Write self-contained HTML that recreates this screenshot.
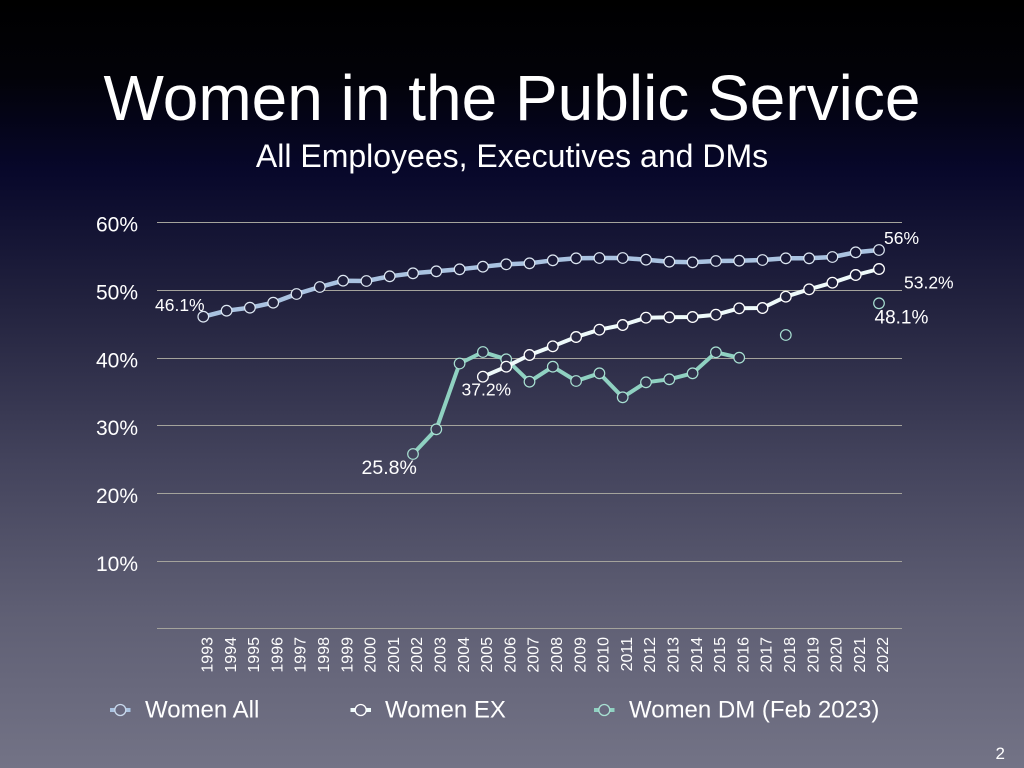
<!DOCTYPE html>
<html><head><meta charset="utf-8">
<style>
html,body{margin:0;padding:0;width:1024px;height:768px;overflow:hidden;background:#000;}
svg{display:block;}
text{font-family:"Liberation Sans",Arial,sans-serif;fill:#ffffff;}
</style></head>
<body>
<svg width="1024" height="768" viewBox="0 0 1024 768" xmlns="http://www.w3.org/2000/svg">
<defs>
<linearGradient id="bg" x1="0" y1="0" x2="0" y2="768" gradientUnits="userSpaceOnUse">
<stop offset="0" stop-color="#000000"/>
<stop offset="0.1" stop-color="#020208"/>
<stop offset="0.22" stop-color="#07072a"/>
<stop offset="0.4" stop-color="#23233f"/>
<stop offset="0.6" stop-color="#43435c"/>
<stop offset="0.8" stop-color="#5f5f74"/>
<stop offset="1" stop-color="#737386"/>
</linearGradient>
</defs>
<rect x="0" y="0" width="1024" height="768" fill="url(#bg)"/>

<text x="512" y="120" font-size="64" text-anchor="middle">Women in the Public Service</text>
<text x="512" y="167" font-size="32" text-anchor="middle">All Employees, Executives and DMs</text>

<!-- gridlines -->
<g stroke="#a4a39c" stroke-width="1">
<line x1="157" y1="222.5" x2="902" y2="222.5"/>
<line x1="157" y1="290.5" x2="902" y2="290.5"/>
<line x1="157" y1="358.5" x2="902" y2="358.5"/>
<line x1="157" y1="425.5" x2="902" y2="425.5"/>
<line x1="157" y1="493.5" x2="902" y2="493.5"/>
<line x1="157" y1="561.5" x2="902" y2="561.5"/>
<line x1="157" y1="628.5" x2="902" y2="628.5"/>
</g>

<g font-size="21" text-anchor="end">
<text x="138" y="231.7">60%</text>
<text x="138" y="299.5">50%</text>
<text x="138" y="367.7">40%</text>
<text x="138" y="435">30%</text>
<text x="138" y="503">20%</text>
<text x="138" y="571">10%</text>
</g>

<!-- x axis labels -->
<g font-size="16" text-anchor="end">
<text transform="translate(212.5,637) rotate(-90)">1993</text>
<text transform="translate(235.8,637) rotate(-90)">1994</text>
<text transform="translate(259.1,637) rotate(-90)">1995</text>
<text transform="translate(282.4,637) rotate(-90)">1996</text>
<text transform="translate(305.7,637) rotate(-90)">1997</text>
<text transform="translate(329,637) rotate(-90)">1998</text>
<text transform="translate(352.3,637) rotate(-90)">1999</text>
<text transform="translate(375.6,637) rotate(-90)">2000</text>
<text transform="translate(398.9,637) rotate(-90)">2001</text>
<text transform="translate(422.2,637) rotate(-90)">2002</text>
<text transform="translate(445.5,637) rotate(-90)">2003</text>
<text transform="translate(468.8,637) rotate(-90)">2004</text>
<text transform="translate(492.1,637) rotate(-90)">2005</text>
<text transform="translate(515.4,637) rotate(-90)">2006</text>
<text transform="translate(538.7,637) rotate(-90)">2007</text>
<text transform="translate(562,637) rotate(-90)">2008</text>
<text transform="translate(585.3,637) rotate(-90)">2009</text>
<text transform="translate(608.6,637) rotate(-90)">2010</text>
<text transform="translate(631.9,637) rotate(-90)">2011</text>
<text transform="translate(655.2,637) rotate(-90)">2012</text>
<text transform="translate(678.5,637) rotate(-90)">2013</text>
<text transform="translate(701.8,637) rotate(-90)">2014</text>
<text transform="translate(725.1,637) rotate(-90)">2015</text>
<text transform="translate(748.4,637) rotate(-90)">2016</text>
<text transform="translate(771.7,637) rotate(-90)">2017</text>
<text transform="translate(795,637) rotate(-90)">2018</text>
<text transform="translate(818.3,637) rotate(-90)">2019</text>
<text transform="translate(841.6,637) rotate(-90)">2020</text>
<text transform="translate(864.9,637) rotate(-90)">2021</text>
<text transform="translate(888.2,637) rotate(-90)">2022</text>
</g>

<!-- Women All -->
<polyline fill="none" stroke="#a9c2e0" stroke-width="4.5" stroke-linejoin="round" points="203.3,316.7 226.6,310.7 249.9,307.7 273.2,302.7 296.5,294 319.8,287 343.1,280.7 366.4,281 389.7,276.3 413,273.3 436.3,271.3 459.6,269.3 482.9,266.7 506.2,264.3 529.5,263.3 552.8,260.3 576.1,258.3 599.4,258 622.7,258 646,259.7 669.3,261.7 692.6,262.3 715.9,261 739.2,260.7 762.5,260 785.8,258.3 809.1,258.3 832.4,257 855.7,252.3 879,250"/>
<g fill="url(#bg)" stroke="#dde7f2" stroke-width="1.2">
<circle cx="203.3" cy="316.7" r="5.3"/><circle cx="226.6" cy="310.7" r="5.3"/><circle cx="249.9" cy="307.7" r="5.3"/><circle cx="273.2" cy="302.7" r="5.3"/><circle cx="296.5" cy="294" r="5.3"/><circle cx="319.8" cy="287" r="5.3"/><circle cx="343.1" cy="280.7" r="5.3"/><circle cx="366.4" cy="281" r="5.3"/><circle cx="389.7" cy="276.3" r="5.3"/><circle cx="413" cy="273.3" r="5.3"/><circle cx="436.3" cy="271.3" r="5.3"/><circle cx="459.6" cy="269.3" r="5.3"/><circle cx="482.9" cy="266.7" r="5.3"/><circle cx="506.2" cy="264.3" r="5.3"/><circle cx="529.5" cy="263.3" r="5.3"/><circle cx="552.8" cy="260.3" r="5.3"/><circle cx="576.1" cy="258.3" r="5.3"/><circle cx="599.4" cy="258" r="5.3"/><circle cx="622.7" cy="258" r="5.3"/><circle cx="646" cy="259.7" r="5.3"/><circle cx="669.3" cy="261.7" r="5.3"/><circle cx="692.6" cy="262.3" r="5.3"/><circle cx="715.9" cy="261" r="5.3"/><circle cx="739.2" cy="260.7" r="5.3"/><circle cx="762.5" cy="260" r="5.3"/><circle cx="785.8" cy="258.3" r="5.3"/><circle cx="809.1" cy="258.3" r="5.3"/><circle cx="832.4" cy="257" r="5.3"/><circle cx="855.7" cy="252.3" r="5.3"/><circle cx="879" cy="250" r="5.3"/>
</g>

<!-- Women DM -->
<polyline fill="none" stroke="#8fd1c1" stroke-width="4" stroke-linejoin="round" points="413,454 436.3,429.3 459.6,363.5 482.9,352 506.2,359.3 529.5,381.7 552.8,366.7 576.1,381 599.4,373.3 622.7,397.3 646,382.3 669.3,379.3 692.6,373.3 715.9,352.3 739.2,357.7"/>
<g fill="url(#bg)" stroke="#a8e0d2" stroke-width="1.2">
<circle cx="413" cy="454" r="5.3"/><circle cx="436.3" cy="429.3" r="5.3"/><circle cx="459.6" cy="363.5" r="5.3"/><circle cx="482.9" cy="352" r="5.3"/><circle cx="506.2" cy="359.3" r="5.3"/><circle cx="529.5" cy="381.7" r="5.3"/><circle cx="552.8" cy="366.7" r="5.3"/><circle cx="576.1" cy="381" r="5.3"/><circle cx="599.4" cy="373.3" r="5.3"/><circle cx="622.7" cy="397.3" r="5.3"/><circle cx="646" cy="382.3" r="5.3"/><circle cx="669.3" cy="379.3" r="5.3"/><circle cx="692.6" cy="373.3" r="5.3"/><circle cx="715.9" cy="352.3" r="5.3"/><circle cx="739.2" cy="357.7" r="5.3"/>
<circle cx="785.8" cy="335" r="5.3"/><circle cx="879" cy="303.3" r="5.3"/>
</g>

<!-- Women EX -->
<polyline fill="none" stroke="#eefafa" stroke-width="4" stroke-linejoin="round" points="482.9,376.7 506.2,366.7 529.5,355 552.8,346.3 576.1,337 599.4,329.7 622.7,325 646,317.7 669.3,317.3 692.6,317 715.9,314.7 739.2,308.3 762.5,308 785.8,296.7 809.1,289.3 832.4,282.7 855.7,275 879,269"/>
<g fill="url(#bg)" stroke="#ffffff" stroke-width="1.3">
<circle cx="482.9" cy="376.7" r="5.3"/><circle cx="506.2" cy="366.7" r="5.3"/><circle cx="529.5" cy="355" r="5.3"/><circle cx="552.8" cy="346.3" r="5.3"/><circle cx="576.1" cy="337" r="5.3"/><circle cx="599.4" cy="329.7" r="5.3"/><circle cx="622.7" cy="325" r="5.3"/><circle cx="646" cy="317.7" r="5.3"/><circle cx="669.3" cy="317.3" r="5.3"/><circle cx="692.6" cy="317" r="5.3"/><circle cx="715.9" cy="314.7" r="5.3"/><circle cx="739.2" cy="308.3" r="5.3"/><circle cx="762.5" cy="308" r="5.3"/><circle cx="785.8" cy="296.7" r="5.3"/><circle cx="809.1" cy="289.3" r="5.3"/><circle cx="832.4" cy="282.7" r="5.3"/><circle cx="855.7" cy="275" r="5.3"/><circle cx="879" cy="269" r="5.3"/>
</g>

<!-- data labels -->
<text x="155" y="311" font-size="17.5">46.1%</text>
<text x="884" y="244" font-size="17.5">56%</text>
<text x="904" y="288.5" font-size="17.5">53.2%</text>
<text x="874.5" y="323.5" font-size="19">48.1%</text>
<text x="461.5" y="395.5" font-size="17.5">37.2%</text>
<text x="361.5" y="474" font-size="19.5">25.8%</text>

<!-- legend -->
<g>
<line x1="110" y1="710" x2="130.5" y2="710" stroke="#a9c2e0" stroke-width="4"/>
<circle cx="120.3" cy="710" r="5.5" fill="#68687e" stroke="#c9d9ec" stroke-width="1.3"/>
<text x="145" y="717.5" font-size="24">Women All</text>
<line x1="350.5" y1="710" x2="371" y2="710" stroke="#eefafa" stroke-width="4"/>
<circle cx="360.7" cy="710" r="5.5" fill="#68687e" stroke="#ffffff" stroke-width="1.3"/>
<text x="385" y="717.5" font-size="24">Women EX</text>
<line x1="594" y1="710" x2="614.5" y2="710" stroke="#8fd1c1" stroke-width="4"/>
<circle cx="604.3" cy="710" r="5.5" fill="#68687e" stroke="#a8e0d2" stroke-width="1.3"/>
<text x="629" y="717.5" font-size="24">Women DM (Feb 2023)</text>
</g>

<text x="1005" y="759" font-size="17" text-anchor="end">2</text>
</svg>
</body></html>
